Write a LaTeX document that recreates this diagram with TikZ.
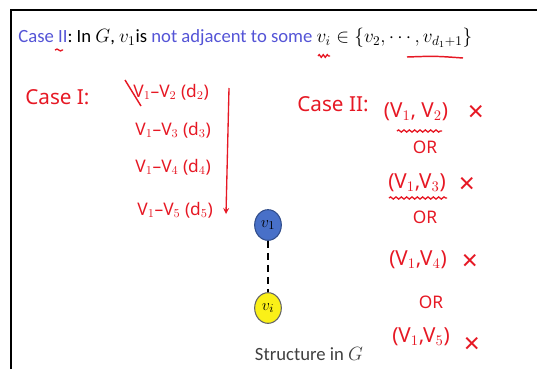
\documentclass[tikz,border=0pt]{standalone}
\usepackage{fontspec}
\setmainfont{Carlito}
\newfontfamily\handfont{Noto Sans}
\usetikzlibrary{shapes.geometric,decorations.pathmorphing}
\definecolor{slideblue}{RGB}{84,84,214}
\definecolor{inkred}{RGB}{230,24,36}
\definecolor{nodeblue}{RGB}{72,112,200}
\definecolor{nodeyellow}{RGB}{250,240,24}
\begin{document}
\begin{tikzpicture}[
		x=0.75pt, y=-0.75pt,
		>=stealth,
		line width=0.6pt,
		hand/.style={font=\handfont\fontsize{13}{15}\selectfont, text=inkred, inner sep=0pt},
		bighand/.style={hand, font=\handfont\fontsize{15.5}{17}\selectfont},
		vertex/.style={ellipse, draw, line width=0.8pt, minimum width=20pt, minimum height=23pt, inner sep=0pt, font=\fontsize{13}{15}\selectfont},
		squiggle/.style={draw=inkred, line width=1pt, decorate, decoration={snake, amplitude=0.8pt, segment length=4pt}}
		]
		
		\useasboundingbox (0,0) rectangle (537,369);
		\draw[line width=1.5pt] (11,369) -- (11,10) -- (537,10);
		
		\node[anchor=west, inner sep=0pt, font=\fontsize{14}{16}\selectfont] (title) at (18,38)
		{{\color{slideblue}Case II}: In $G$, $v_1$is {\color{slideblue}not adjacent to some} $v_i \in \{v_2,\cdots,v_{d_1+1}\}$};
		
		\path
		(55,50) coordinate (gA) (63,50) coordinate (gB)
		(318,56) coordinate (iA) (330,56) coordinate (iB)
		(407,57) coordinate (sA) (463,58) coordinate (sB)
		(229,88) coordinate (arrA) (226,214) coordinate (arrB)
		;
		\draw[squiggle, decoration={amplitude=0.7pt, segment length=5pt}] (gA) -- (gB);
		\draw[squiggle, decoration={amplitude=1pt, segment length=3pt}] (iA) -- (iB);
		\draw[inkred, line width=1.1pt] (sA) .. controls (435,56) .. (sB);
		
		% case I
		\node[bighand, anchor=west] (caseA) at (25,97) {Case I:};
		\node[hand, anchor=west] (edgeA) at (133,92) {V$_1$–V$_2$ (d$_2$)};
		\node[hand, anchor=west] (edgeB) at (135,130) {V$_1$–V$_3$ (d$_3$)};
		\node[hand, anchor=west] (edgeC) at (135,167) {V$_1$–V$_4$ (d$_4$)};
		\node[hand, anchor=west] (edgeD) at (137,210) {V$_1$–V$_5$ (d$_5$)};
		\draw[inkred, line width=1.1pt] (edgeA.west) ++(-8,-12) -- ++(16,26);
		\draw[inkred, line width=1pt, ->] (arrA) -- (arrB);
		
		% case II
		\node[bighand] (caseB) at (333,104) {Case II:};
		\node[bighand] (pairA) at (416,112) {(V$_1$, V$_2$)};
		\node[bighand] (pairB) at (417,183) {(V$_1$,V$_3$)};
		\node[bighand] (pairC) at (418,260) {(V$_1$,V$_4$)};
		\node[bighand] (pairD) at (421,337) {(V$_1$,V$_5$)};
		\foreach \p/\q in {pairA/{(476,113)}, pairB/{(467,185)}, pairC/{(470,262)}, pairD/{(472,345)}} {
			\node[hand, font=\handfont\fontsize{21}{22}\selectfont] (cross\p) at \q {×};
		}
		\node[hand] (orA) at (425,147) {OR};
		\node[hand] (orB) at (425,217) {OR};
		\node[hand] (orC) at (431,302) {OR};
		\draw[squiggle] (397,131) -- (442,131);
		\draw[squiggle] (389,198) -- (447,198);
		
		% structure
		\node[vertex, fill=nodeblue, draw=nodeblue!70!black] (vA) at (268,225) {$v_1$};
		\node[vertex, fill=nodeyellow, draw=black!60] (vB) at (268,308) {$v_i$};
		\draw[line width=1.5pt, dash pattern=on 5pt off 4pt] (vA) -- (vB);
		\node[font=\fontsize{14}{16}\selectfont, text=black!75] (cap) at (309,354) {Structure in $G$};
		
	\end{tikzpicture}
\end{document}
